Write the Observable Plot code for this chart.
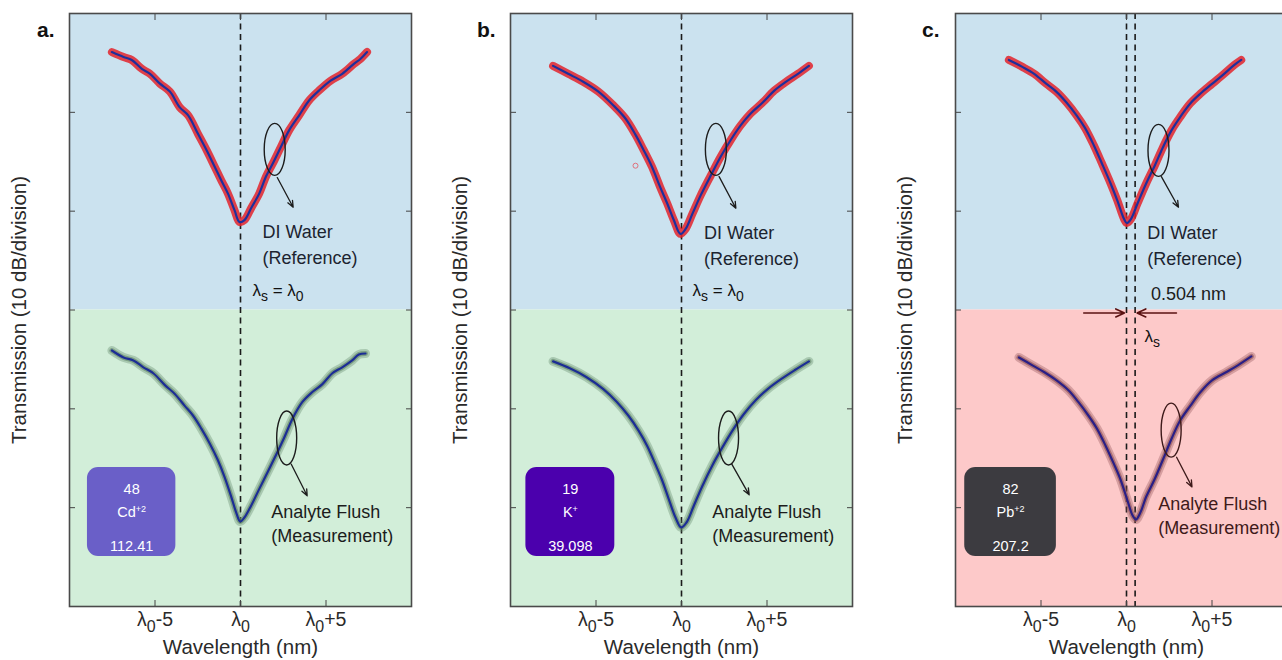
<!DOCTYPE html>
<html><head><meta charset="utf-8">
<script src="https://cdn.jsdelivr.net/npm/d3@7"></script>
<script src="https://cdn.jsdelivr.net/npm/@observablehq/plot@0.6"></script>
<style>
html,body{margin:0;padding:0;background:#fff;overflow:hidden;}
#wrap{position:relative;width:1282px;height:660px;overflow:hidden;font-family:"Liberation Sans",Arial,sans-serif;}
.panel{position:absolute;top:0;}
.letter{position:absolute;font-weight:bold;font-size:21px;line-height:21px;color:#111;}
</style></head><body><div id="wrap"></div>
<script>
// ---- axis ticks ----
const xTicks = [-5, 0, 5];
const xTickLabels = ["λ_{0}-5", "λ_{0}", "λ_{0}+5"];
const yTicks = [10, 20, 30, 40, 50];

// ---- spectra (x: nm from λ0, y: dB above bottom of frame) ----
const refA = [[-7.52,56.1],[-6.84,55.6],[-6.36,55.3],[-5.77,54.4],[-5.29,53.9],[-4.71,52.9],[-4.13,52.1],[-3.55,50.5],[-3.06,49.7],[-2.48,47.8],[-1.99,46.2],[-1.51,44.5],[-1.12,43.1],[-0.74,41.8],[-0.35,40.1],[-0.06,38.9],[0.23,39.1],[0.62,40.3],[1.10,41.8],[1.49,43.5],[1.88,44.8],[2.36,46.5],[2.85,48.2],[3.43,49.7],[4.01,51.2],[4.59,52.2],[5.27,53.2],[5.95,53.9],[6.63,54.9],[7.01,55.4],[7.40,56.1]];
const measA = [[-7.52,25.9],[-6.84,25.2],[-6.26,24.9],[-5.68,24.2],[-5.10,23.6],[-4.42,22.4],[-3.84,21.5],[-3.26,20.3],[-2.77,19.3],[-2.29,18.0],[-1.80,16.5],[-1.32,14.8],[-0.93,13.1],[-0.54,11.1],[-0.25,9.5],[-0.02,8.6],[0.23,9.0],[0.62,10.2],[1.10,11.9],[1.59,13.6],[2.07,15.3],[2.56,17.1],[3.04,19.0],[3.62,20.7],[4.20,21.7],[4.79,22.5],[5.37,23.6],[5.95,24.2],[6.53,24.9],[6.92,25.5],[7.31,25.6]];
const refB = [[-7.51,54.7],[-6.63,53.9],[-5.75,53.1],[-4.86,52.1],[-3.98,50.7],[-3.29,49.4],[-2.71,47.8],[-2.22,46.2],[-1.73,44.5],[-1.24,42.4],[-0.84,40.8],[-0.45,39.1],[-0.06,37.7],[0.24,38.2],[0.63,39.7],[1.12,41.6],[1.71,43.6],[2.29,45.5],[2.88,47.2],[3.47,48.7],[4.06,49.9],[4.75,51.0],[5.43,52.2],[6.12,53.1],[6.81,53.9],[7.45,54.7]];
const strayB = [[-2.69,44.6]];
const measB = [[-7.51,24.8],[-6.53,24.1],[-5.55,23.2],[-4.57,22.0],[-3.78,20.7],[-3.10,19.3],[-2.51,17.8],[-2.02,16.3],[-1.53,14.4],[-1.14,12.8],[-0.75,10.9],[-0.35,9.0],[-0.02,8.0],[0.29,8.5],[0.72,10.2],[1.22,12.2],[1.81,14.3],[2.39,16.1],[2.98,17.8],[3.66,19.5],[4.35,20.9],[5.04,22.0],[5.82,23.0],[6.61,23.9],[7.45,24.8]];
const refC = [[-6.88,55.3],[-6.09,54.6],[-5.40,53.9],[-4.70,52.9],[-4.11,52.1],[-3.51,51.0],[-2.92,49.7],[-2.42,48.4],[-1.92,46.7],[-1.43,44.8],[-0.93,42.8],[-0.54,41.1],[-0.14,39.2],[0.02,38.8],[0.26,39.2],[0.65,40.8],[1.15,42.8],[1.65,44.6],[2.14,46.5],[2.64,48.2],[3.13,49.5],[3.73,50.9],[4.33,51.9],[5.02,52.9],[5.71,53.9],[6.31,54.8],[6.71,55.3]];
const measC = [[-6.29,25.2],[-5.50,24.4],[-4.80,23.7],[-4.11,22.9],[-3.41,21.9],[-2.82,20.7],[-2.22,19.3],[-1.73,18.0],[-1.23,16.3],[-0.73,14.4],[-0.34,12.8],[0.06,10.7],[0.36,9.2],[0.55,8.8],[0.81,9.5],[1.15,11.1],[1.65,12.9],[2.14,14.9],[2.64,17.0],[3.13,18.8],[3.73,20.3],[4.33,21.7],[5.02,22.9],[5.82,23.7],[6.51,24.4],[7.30,25.3]];

// ---- resonance markers ----
const shiftC = 0.504;
const dashesAB = [0];
const dashesC = [0, shiftC];

// ---- element boxes ----
const elemNumber = ["48", "19", "82"];
const elemSymbol = ["Cd^{+2}", "K^{+}", "Pb^{+2}"];
const elemMass = ["112.41", "39.098", "207.2"];
const elemBox = [[-8.95,-3.78,5.06,14.07],[-9.1,-3.9,5.06,14.07],[-9.46,-4.1,5.06,14.07]];

// ---- annotation anchors (data units) ----
const refLabelPos = [[1.28,39.2],[1.31,39.1],[1.21,39.1]];
const measLabelPos = [[1.80,10.7],[1.80,10.7],[1.85,11.5]];
const refEllipse = [[2.03,46.2],[2.04,46.2],[1.90,46.1]];
const measEllipse = [[2.73,17.0],[2.78,17.0],[2.64,17.8]];
const refArrow = [[2.15,43.4,3.08,40.4],[2.2,43.5,3.18,40.3],[2.04,43.5,3.04,40.4]];
const measArrow = [[2.97,14.4,3.9,11.2],[2.94,14.4,3.96,11.3],[2.93,15.1,3.83,12.1]];
const lambdaEqPos = [[0.7,32.0],[0.65,32.0]];
const shiftArrows = [[-2.5,29.7,-0.12,29.7],[2.92,29.7,0.62,29.7]];
const shiftLabelPos = [[1.43,31.6]];
const lambdaSPos = [[1.05,27.3]];

const panels = [
  {k:0, letter:"a.", left:0, ml:69, ref:refA, meas:measA, dashes:dashesAB, lower:"#d2eed9", box:"#6a5fc8", halo:"#5f8466", line2:"#1c2d95", ink:"#1c1c1c"},
  {k:1, letter:"b.", left:440, ml:70, ref:refB, meas:measB, dashes:dashesAB, lower:"#d2eed9", box:"#4b00ad", halo:"#5f8466", line2:"#1c2d95", ink:"#1c1c1c"},
  {k:2, letter:"c.", left:885, ml:70, ref:refC, meas:measC, dashes:dashesC, lower:"#fdc9c9", box:"#3c3b40", halo:"#8e4f55", line2:"#2a1f86", ink:"#3e1a1a"}
];
const upperBg = "#cbe2ef";
const font = "Liberation Sans, Arial, Helvetica, sans-serif";

function pts(a){ return a.map(([x,y]) => ({x,y})); }

function richify(root){
  const NS = "http://www.w3.org/2000/svg";
  root.querySelectorAll("text, tspan").forEach(el => {
    if (el.children.length) return;
    const s = el.textContent;
    if (!/[_^]\{/.test(s)) return;
    el.textContent = "";
    const re = /([_^])\{([^}]*)\}/g; let last = 0, m;
    const add = (txt, attrs) => { const t = document.createElementNS(NS, "tspan"); t.textContent = txt; for (const k in attrs) t.setAttribute(k, attrs[k]); el.appendChild(t); };
    while ((m = re.exec(s))) {
      if (m.index > last) add(s.slice(last, m.index), {});
      if (m[1] === "_") add(m[2], {"baseline-shift": "-0.38em", "font-size": "82%"});
      else add(m[2], {"baseline-shift": "0.55em", "font-size": "62%"});
      last = re.lastIndex;
    }
    if (last < s.length) add(s.slice(last), {});
  });
}

const wrap = document.getElementById("wrap");

for (const p of panels) {
  const k = p.k;
  const bands = [{x1:-10, x2:10, y1:30, y2:60}];
  const bandsLow = [{x1:-10, x2:10, y1:0, y2:30}];
  const [bx1, bx2, by1, by2] = elemBox[k];
  const bxc = (bx1 + bx2) / 2;
  const boxTexts = [
    {x:bxc, y:11.9, t:elemNumber[k]},
    {x:bxc, y:9.55, t:elemSymbol[k]},
    {x:bxc, y:6.07, t:elemMass[k]}
  ];
  const arrows = [refArrow[k], measArrow[k]].map(([x1,y1,x2,y2]) => ({x1,y1,x2,y2}));
  const marks = [
    Plot.rect(bands, {x1:"x1", x2:"x2", y1:"y1", y2:"y2", fill: upperBg}),
    Plot.rect(bandsLow, {x1:"x1", x2:"x2", y1:"y1", y2:"y2", fill: p.lower}),
    Plot.ruleX(p.dashes, {stroke:"#1b1b1b", strokeWidth:1.6, strokeDasharray:"6,4.5"}),
    // reference curve: red markers under blue fit
    Plot.line(pts(p.ref), {x:"x", y:"y", stroke:"#e3232c", strokeWidth:8, strokeOpacity:0.85, curve:"catmull-rom", strokeLinecap:"round"}),
    Plot.line(pts(p.ref), {x:"x", y:"y", stroke:"#1e2f9c", strokeWidth:2.2, curve:"catmull-rom"}),
    // measurement curve: soft halo under blue fit
    Plot.line(pts(p.meas), {x:"x", y:"y", stroke:p.halo, strokeWidth:9, strokeOpacity:0.35, curve:"catmull-rom", strokeLinecap:"round"}),
    Plot.line(pts(p.meas), {x:"x", y:"y", stroke:p.halo, strokeWidth:5, strokeOpacity:0.6, curve:"catmull-rom", strokeLinecap:"round"}),
    Plot.line(pts(p.meas), {x:"x", y:"y", stroke:p.line2, strokeWidth:2.2, curve:"catmull-rom"}),
    // annotations
    Plot.arrow(arrows, {x1:"x1", y1:"y1", x2:"x2", y2:"y2", stroke:(d,i)=> i===0 ? "#1c1c1c" : p.ink, strokeWidth:1.3, headLength:8, headAngle:45}),
    Plot.text([refLabelPos[k]], {x:d=>d[0], y:d=>d[1], text:()=>"DI Water\n(Reference)", textAnchor:"start", lineAnchor:"top", lineHeight:1.45, fontSize:18, fill:"#1c2430"}),
    Plot.text([measLabelPos[k]], {x:d=>d[0], y:d=>d[1], text:()=>"Analyte Flush\n(Measurement)", textAnchor:"start", lineAnchor:"top", lineHeight:1.35, fontSize:18, fill:p.ink}),
    // element box
    Plot.rect([{x1:bx1, x2:bx2, y1:by1, y2:by2}], {x1:"x1", x2:"x2", y1:"y1", y2:"y2", fill:p.box, rx:11}),
    Plot.text(boxTexts, {x:"x", y:"y", text:"t", fill:"#fff", fontSize:14.5, textAnchor:"middle"}),
    // axes (inward ticks on all four sides)
    Plot.axisX({anchor:"bottom", ticks:xTicks, tickSize:-6, tickPadding:12, tickFormat:(d)=>xTickLabels[xTicks.indexOf(d)], fontSize:19.5, stroke:"#444", color:"#2a2a2a", label:"Wavelength (nm)", labelAnchor:"center", labelOffset:47, labelArrow:"none"}),
    Plot.axisX({anchor:"top", ticks:xTicks, tickSize:-6, tickFormat:()=>"", stroke:"#444", label:null}),
    Plot.axisY({anchor:"left", ticks:yTicks, tickSize:-6, tickFormat:()=>"", stroke:"#444", color:"#2a2a2a", label:"Transmission (10 dB/division)", labelAnchor:"center", labelOffset:58, labelArrow:"none"}),
    Plot.axisY({anchor:"right", ticks:yTicks, tickSize:-6, tickFormat:()=>"", stroke:"#444", label:null}),
    Plot.frame({stroke:"#4a4a4a", strokeWidth:1.6})
  ];
  if (k < 2) {
    marks.push(Plot.text([lambdaEqPos[k]], {x:d=>d[0], y:d=>d[1], text:()=>"λ_{s} = λ_{0}", textAnchor:"start", fontSize:17, fill:"#111"}));
  }
  if (k === 1) {
    marks.push(Plot.dot(pts(strayB), {x:"x", y:"y", r:2.5, stroke:"#e0707c", strokeWidth:1}));
  }
  if (k === 2) {
    marks.push(Plot.arrow(shiftArrows.map(([x1,y1,x2,y2])=>({x1,y1,x2,y2})), {x1:"x1", y1:"y1", x2:"x2", y2:"y2", stroke:"#5a1212", strokeWidth:1.6, headLength:9, headAngle:50}));
    marks.push(Plot.text(shiftLabelPos, {x:d=>d[0], y:d=>d[1], text:()=>"0.504 nm", textAnchor:"start", fontSize:18, fill:"#1c1c1c"}));
    marks.push(Plot.text(lambdaSPos, {x:d=>d[0], y:d=>d[1], text:()=>"λ_{s}", textAnchor:"start", fontSize:17, fill:"#111"}));
  }
  const svg = Plot.plot({
    width: p.ml + 342 + 30, height: 660,
    marginLeft: p.ml, marginRight: 30, marginTop: 13, marginBottom: 54,
    x: {domain: [-10, 10]},
    y: {domain: [0, 60]},
    style: {fontFamily: font, fontSize: "18px", color: "#2a2a2a", background: "transparent", overflow: "visible"},
    marks
  });
  // enlarge axis titles
  svg.querySelectorAll('[aria-label="x-axis label"], [aria-label="y-axis label"]').forEach(g => {
    g.setAttribute("font-size", "20.5px");
    g.querySelectorAll("text").forEach(t => t.setAttribute("font-size", "20.5px"));
  });
  // ellipses around the curves, placed with the plot's own scales
  const sx = svg.scale("x"), sy = svg.scale("y");
  const g = d3.select(svg).append("g").attr("fill", "none").attr("stroke-width", 1.4);
  [[refEllipse[k], "#1c1c1c", 10.5, 26], [measEllipse[k], p.ink, 10, 27]].forEach(([c, col, rx, ry]) => {
    g.append("ellipse").attr("cx", sx.apply(c[0])).attr("cy", sy.apply(c[1])).attr("rx", rx).attr("ry", ry).attr("stroke", col);
  });
  richify(svg);
  svg.classList.add("panel");
  svg.style.left = p.left + "px";
  wrap.appendChild(svg);
  const L = document.createElement("div");
  L.className = "letter";
  L.textContent = p.letter;
  L.style.left = (p.left + 37) + "px";
  L.style.top = "19px";
  wrap.appendChild(L);
}
</script></body></html>
